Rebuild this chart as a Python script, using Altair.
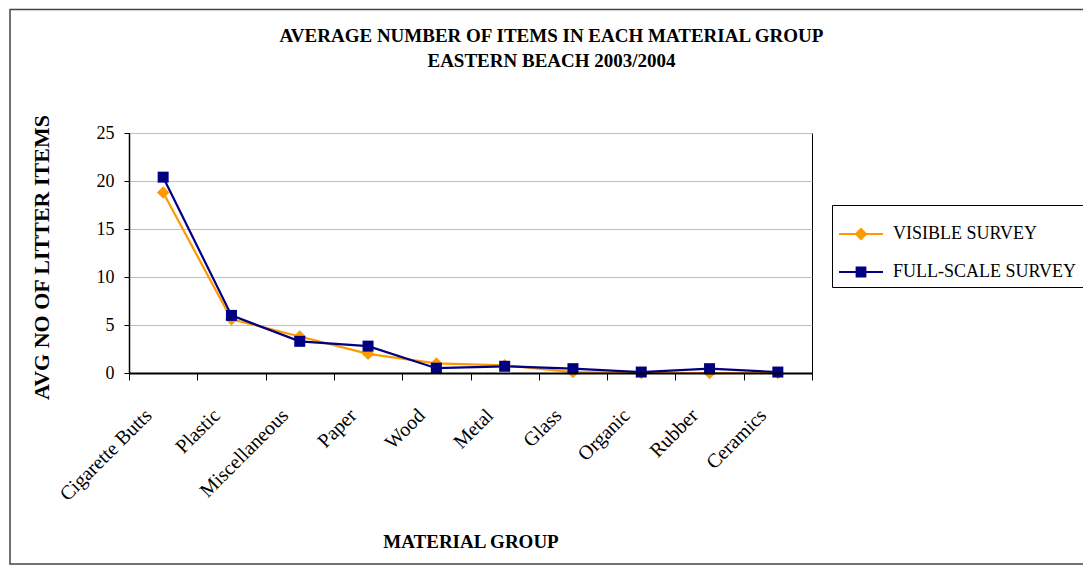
import altair as alt
import pandas as pd

materials = [
    "Cigarette Butts", "Plastic", "Miscellaneous", "Paper", "Wood",
    "Metal", "Glass", "Organic", "Rubber", "Ceramics",
]
visible = [18.8, 5.6, 3.8, 2.0, 1.0, 0.8, 0.1, 0.0, 0.0, 0.0]
full_scale = [20.4, 6.0, 3.3, 2.8, 0.5, 0.7, 0.45, 0.1, 0.45, 0.1]
series = ["VISIBLE SURVEY", "FULL-SCALE SURVEY"]
colors = ["#FF9900", "#000080"]
y_ticks = [0, 5, 10, 15, 20, 25]

# marker shapes; the legend versions carry a short line through the marker
diamond = "M0,-1L1,0L0,1L-1,0Z"
square = "M-1,-1L1,-1L1,1L-1,1Z"
diamond_key = "M-1,0L1,0M0,-0.23L0.23,0L0,0.23L-0.23,0Z"
square_key = "M-1,0L1,0M-0.2,-0.2L0.2,-0.2L0.2,0.2L-0.2,0.2Z"

df = pd.concat(
    [
        pd.DataFrame({"material": materials, "survey": series[0], "value": visible}),
        pd.DataFrame({"material": materials, "survey": series[1], "value": full_scale}),
    ],
    ignore_index=True,
)

FONT = "Liberation Serif"
W, H = 683, 240

x_enc = alt.X(
    "material:N",
    sort=materials,
    scale=alt.Scale(type="band", paddingInner=0, paddingOuter=0),
    axis=alt.Axis(
        title="MATERIAL GROUP",
        titleX=W / 2,
        titleY=168,
        titleBaseline="middle",
        titleAlign="center",
        tickBand="extent",
        tickSize=7,
        labelAngle=-45,
        labelAlign="right",
        labelBaseline="middle",
        labelPadding=32,
        labelOffset=-15,
        labelFontSize=20,
        domainColor="black",
        domainWidth=2,
        tickColor="black",
        grid=False,
        zindex=2,
    ),
)
y_enc = alt.Y(
    "value:Q",
    scale=alt.Scale(domain=[0, 25], nice=False),
    axis=alt.Axis(
        values=y_ticks,
        title="AVG NO OF LITTER ITEMS",
        titleAngle=270,
        titleX=-88,
        titleY=H / 2 + 4,
        titleBaseline="middle",
        titleAlign="center",
        titleFontSize=22,
        tickSize=5,
        labelPadding=10,
        domainColor="black",
        domainWidth=1.5,
        tickColor="black",
        gridColor="#c0c0c0",
        zindex=0,
    ),
)

key = alt.Legend(
    title=None,
    orient="none",
    legendX=703,
    legendY=72,
    strokeColor="black",
    fillColor="white",
    padding=6,
    rowPadding=5,
    labelFont=FONT,
    labelFontSize=18,
    labelColor="black",
    labelOffset=9,
    labelLimit=300,
    symbolSize=1936,
    symbolStrokeWidth=2,
)
key_scale_c = alt.Scale(domain=series, range=colors)

frame = (
    alt.Chart(pd.DataFrame({"frame": [0]}))
    .mark_rect(filled=False, color="#444444", strokeWidth=1.5)
    .encode(
        x=alt.value(-119),
        x2=alt.value(W + 400),
        y=alt.value(-123.5),
        y2=alt.value(H + 191),
    )
)


def series_layers(name, color, shape, size):
    base = alt.Chart(df).transform_filter(alt.datum.survey == name)
    line = base.mark_line(strokeWidth=2.2, color=color).encode(x=x_enc, y=y_enc)
    pts = base.mark_point(
        filled=True, shape=shape, size=size, color=color, opacity=1, strokeWidth=0
    ).encode(x=x_enc, y=y_enc)
    return line, pts


vis_line, vis_pts = series_layers(series[0], colors[0], diamond, 156)
full_line, full_pts = series_layers(series[1], colors[1], square, 121)

legend_layer = (
    alt.Chart(df)
    .transform_filter("false")
    .mark_point(filled=True, strokeWidth=2, size=1936, opacity=1)
    .encode(
        color=alt.Color("survey:N", sort=series, scale=key_scale_c, legend=key),
        stroke=alt.Stroke("survey:N", sort=series, scale=key_scale_c, legend=key),
        shape=alt.Shape(
            "survey:N",
            sort=series,
            scale=alt.Scale(domain=series, range=[diamond_key, square_key]),
            legend=key,
        ),
    )
)

chart = (
    alt.layer(frame, vis_line, full_line, vis_pts, full_pts, legend_layer)
    .properties(
        width=W,
        height=H,
        background="white",
        padding={"left": 121, "top": 125, "right": 271, "bottom": 193},
        autosize=alt.AutoSizeParams(type="none"),
        title=alt.TitleParams(
            ["AVERAGE NUMBER OF ITEMS IN EACH MATERIAL GROUP", "EASTERN BEACH 2003/2004"],
            anchor="middle",
            frame="group",
            dx=81,
            dy=62,
            offset=0,
            font=FONT,
            fontSize=19,
            fontWeight="bold",
            lineHeight=25,
            color="black",
        ),
    )
    .configure_view(stroke="black", strokeWidth=1)
    .configure_axis(
        labelFont=FONT,
        labelFontSize=18,
        labelColor="black",
        titleFont=FONT,
        titleFontSize=19,
        titleFontWeight="bold",
        titleColor="black",
    )
)

chart.save("out.html", embed_options={"renderer": "svg", "actions": False})
